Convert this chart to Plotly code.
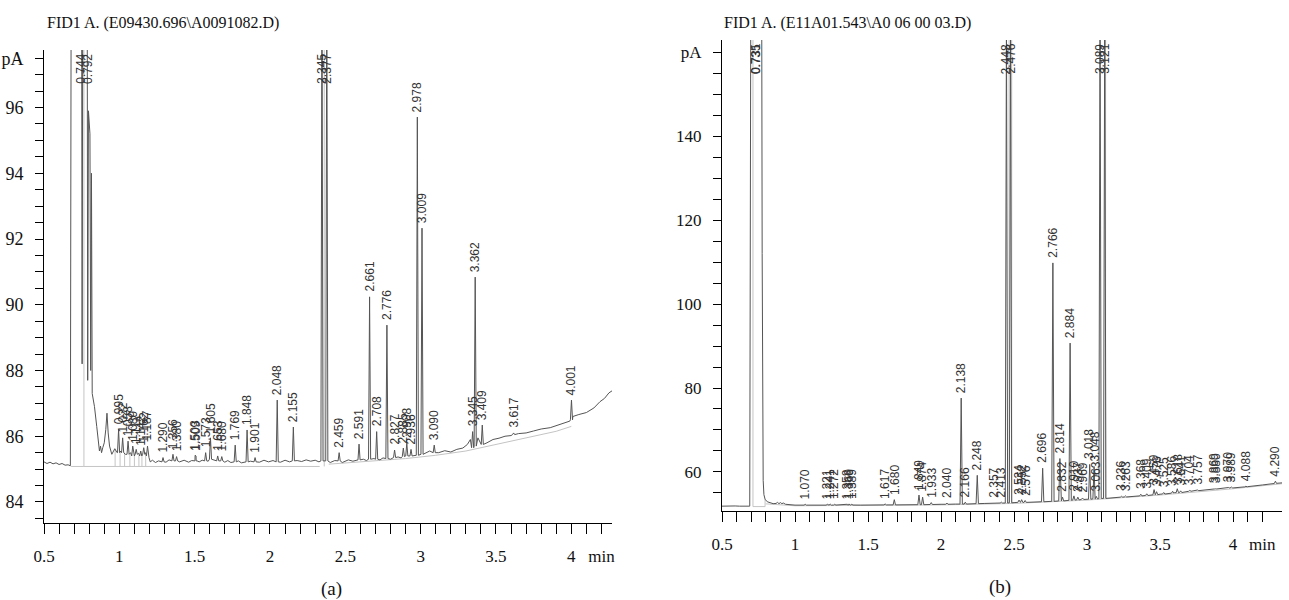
import plotly.graph_objects as go

# ======================= Panel (a) data =======================
A_TITLE = "FID1 A. (E09430.696\\A0091082.D)"
# dark detector signal (time min, pA)
A_SIG_T = [0.50, 0.52, 0.54, 0.56, 0.58, 0.60, 0.62, 0.64, 0.66, 0.675,
           0.680, 0.750, 0.753, 0.757, 0.787, 0.790, 0.795, 0.805, 0.810, 0.815,
           0.820, 0.835, 0.850, 0.860, 0.868, 0.875, 0.882, 0.890, 0.900, 0.910,
           0.918, 0.926, 0.935, 0.950, 0.970, 0.985, 1.010, 1.040, 1.075, 1.100,
           1.128, 1.152, 1.175, 1.197, 1.205, 1.22, 1.24, 1.26, 1.31, 1.33,
           1.40, 1.43, 1.46, 1.48, 1.53, 1.55, 1.59, 1.63, 1.70, 1.72,
           1.74, 1.79, 1.81, 1.87, 1.93, 1.96, 1.99, 2.02, 2.07, 2.10,
           2.13, 2.18, 2.21, 2.24, 2.27, 2.30, 2.325,
           2.40, 2.43, 2.48, 2.52, 2.55, 2.62, 2.64, 2.69, 2.73, 2.75,
           2.80, 2.85, 2.87, 2.96, 3.03, 3.06, 3.12, 3.16, 3.20, 3.24,
           3.28, 3.31, 3.33, 3.38, 3.44, 3.48, 3.52, 3.56, 3.60, 3.65,
           3.70, 3.75, 3.80, 3.86, 3.92, 3.97, 3.99, 4.01, 4.05, 4.10,
           4.15, 4.19, 4.22, 4.25, 4.27]
A_SIG_V = [85.22, 85.17, 85.21, 85.16, 85.19, 85.14, 85.17, 85.12, 85.13, 85.10,
           99.0, 99.0, 88.2, 99.0, 99.0, 87.7, 95.9, 95.2, 88.0, 94.0,
           87.3, 86.9, 86.3, 85.75, 85.55, 85.7, 85.5, 85.65, 85.8, 86.2,
           86.7, 86.1, 85.7, 85.45, 85.62, 85.5, 85.55, 85.45, 85.5, 85.4,
           85.48, 85.42, 85.5, 85.35, 85.22, 85.27, 85.2, 85.25, 85.21, 85.28,
           85.22, 85.27, 85.21, 85.26, 85.22, 85.27, 85.24, 85.28, 85.21, 85.26,
           85.2, 85.25, 85.19, 85.24, 85.21, 85.27, 85.22, 85.26, 85.21, 85.27,
           85.22, 85.26, 85.23, 85.28, 85.24, 85.27, 85.22,
           85.2, 85.26, 85.2, 85.28, 85.24, 85.3, 85.26, 85.32, 85.28, 85.34,
           85.3, 85.37, 85.34, 85.42, 85.48, 85.55, 85.5, 85.56, 85.52, 85.6,
           85.64, 85.75, 85.9, 85.95, 85.8, 85.9, 85.94, 86.0, 86.02, 86.08,
           86.1, 86.16, 86.22, 86.26, 86.35, 86.42, 86.46, 86.6, 86.66, 86.72,
           86.86, 87.05, 87.15, 87.32, 87.38]
# integrated peaks: retention time, apex (pA), local baseline (pA)
A_PK_RT = [0.995, 1.022, 1.058, 1.089, 1.112, 1.142, 1.162, 1.187, 1.290, 1.356,
           1.380, 1.503, 1.509, 1.573, 1.605, 1.653, 1.680, 1.769, 1.848, 1.901,
           2.048, 2.155, 2.345, 2.377, 2.459, 2.591, 2.661, 2.708, 2.776, 2.827,
           2.885, 2.908, 2.936, 2.978, 3.009, 3.090, 3.345, 3.362, 3.409, 3.617,
           4.001]
A_PK_H = [86.2, 85.95, 85.85, 85.7, 85.6, 85.55, 85.65, 85.7, 85.35, 85.45,
          85.38, 85.42, 85.4, 85.5, 85.95, 85.4, 85.38, 85.73, 86.19, 85.35,
          87.1, 86.28, 100.0, 100.0, 85.5, 85.76, 90.24, 86.14, 89.38, 85.58,
          85.64, 85.79, 85.6, 95.71, 92.33, 85.73, 86.14, 90.84, 86.34, 86.1,
          87.1]
A_PK_BASE = [85.5, 85.5, 85.45, 85.4, 85.45, 85.4, 85.45, 85.4, 85.22, 85.25,
             85.25, 85.25, 85.25, 85.25, 85.3, 85.25, 85.25, 85.22, 85.22, 85.22,
             85.22, 85.25, 85.25, 85.25, 85.25, 85.28, 85.3, 85.3, 85.32, 85.35,
             85.38, 85.4, 85.4, 85.42, 85.45, 85.5, 85.65, 85.7, 85.75, 86.05,
             86.5]
A_PK_LABEL = ["0.995", "1.022", "1.058", "1.089", "1.112", "1.142", "1.162", "1.187", "1.290", "1.356",
              "1.380", "1.503", "1.509", "1.573", "1.605", "1.653", "1.680", "1.769", "1.848", "1.901",
              "2.048", "2.155", "2.345", "2.377", "2.459", "2.591", "2.661", "2.708", "2.776", "2.827",
              "2.885", "2.908", "2.936", "2.978", "3.009", "3.090", "3.345", "3.362", "3.409", "3.617",
              "4.001"]
A_SOLV_RT = [0.744, 0.792]
A_SOLV_LABEL = ["0.744", "0.792"]
# light grey integration baseline / drop lines (None = break)
A_LG_T = [0.68, 0.765, 0.765, None, 0.765, 2.33, None, 2.36, 2.36, None,
          0.972, 0.972, None, 1.005, 1.005, None, 1.035, 1.035, None, 1.07, 1.07, None,
          1.10, 1.10, None, 1.13, 1.13, None, 1.15, 1.15, None, 1.175, 1.175, None,
          2.39, 2.6, 2.9, 3.1, 3.3, 3.5, 3.7, 3.9, 4.0]
A_LG_V = [85.08, 85.08, 99.0, None, 85.08, 85.08, None, 85.08, 99.0, None,
          85.08, 85.6, None, 85.08, 85.55, None, 85.08, 85.5, None, 85.08, 85.45, None,
          85.08, 85.45, None, 85.08, 85.42, None, 85.08, 85.45, None, 85.08, 85.48, None,
          85.15, 85.22, 85.32, 85.42, 85.55, 85.75, 85.95, 86.15, 86.3]
A_X_RANGE = [0.5, 4.27]
A_Y_RANGE = [83.36, 97.75]
A_YTICK_STEP = 0.5
A_Y_LABELED = [84, 86, 88, 90, 92, 94, 96]
A_Y_UNIT_AT = 97.5

# ======================= Panel (b) data =======================
B_TITLE = "FID1 A. (E11A01.543\\A0 06 00 03.D)"
B_SIG_T = [0.50, 0.53, 0.56, 0.59, 0.62, 0.65, 0.69, 0.697, 0.772, 0.775,
           0.778, 0.782, 0.787, 0.795, 0.81, 0.83, 0.85, 0.87, 0.88, 0.89,
           0.90, 0.91, 0.92, 0.935, 0.96, 1.0, 1.1, 1.2, 1.3, 1.45,
           1.55, 1.7, 1.8, 1.9, 2.0, 2.1, 2.2, 2.3, 2.4, 2.5,
           2.6, 2.7, 2.8, 2.9, 3.0, 3.1, 3.2, 3.3, 3.4, 3.5,
           3.6, 3.7, 3.8, 3.9, 4.0, 4.1, 4.2, 4.3, 4.335]
B_SIG_V = [51.85, 51.9, 51.8, 51.9, 51.85, 51.8, 51.85, 170.0, 170.0, 112.0,
           72.0, 58.0, 54.6, 53.5, 52.9, 52.6, 52.45, 52.5, 52.75, 52.45,
           52.7, 52.45, 52.6, 52.3, 52.2, 52.1, 52.1, 52.1, 52.15, 52.1,
           52.15, 52.15, 52.2, 52.25, 52.3, 52.35, 52.4, 52.5, 52.6, 52.7,
           52.8, 52.9, 53.1, 53.3, 53.5, 53.7, 53.9, 54.1, 54.4, 54.7,
           55.1, 55.4, 55.7, 56.0, 56.2, 56.5, 56.9, 57.3, 57.4]
B_PK_RT = [1.070, 1.221, 1.241, 1.272, 1.358, 1.369, 1.389, 1.617, 1.680, 1.849,
           1.874, 1.933, 2.040, 2.138, 2.166, 2.248, 2.357, 2.413, 2.448, 2.476,
           2.534, 2.552, 2.576, 2.696, 2.766, 2.814, 2.832, 2.884, 2.910, 2.937,
           2.969, 3.018, 3.048, 3.063, 3.089, 3.121, 3.236, 3.263, 3.368, 3.409,
           3.459, 3.476, 3.525, 3.586, 3.618, 3.641, 3.704, 3.757, 3.869, 3.880,
           3.970, 3.989, 4.088, 4.290]
B_PK_H = [52.3, 52.3, 52.35, 52.3, 52.3, 52.35, 52.3, 52.4, 53.4, 54.5,
          54.0, 52.7, 52.6, 77.6, 52.8, 59.2, 52.7, 52.8, 170.0, 170.0,
          53.3, 53.4, 53.2, 60.9, 109.8, 63.2, 54.0, 90.7, 54.3, 54.0,
          53.8, 61.8, 61.3, 54.2, 170.0, 170.0, 54.2, 54.3, 54.7, 54.8,
          55.8, 55.3, 55.1, 55.4, 56.0, 55.5, 55.6, 55.7, 56.1, 56.0,
          56.3, 56.4, 56.6, 57.8]
B_PK_BASE = [52.1, 52.1, 52.1, 52.12, 52.12, 52.12, 52.12, 52.15, 52.15, 52.2,
             52.2, 52.25, 52.3, 52.35, 52.35, 52.45, 52.55, 52.6, 52.6, 52.65,
             52.75, 52.75, 52.75, 52.9, 53.0, 53.1, 53.1, 53.25, 53.3, 53.35,
             53.45, 53.5, 53.6, 53.6, 53.65, 53.7, 54.0, 54.05, 54.3, 54.4,
             54.55, 54.6, 54.75, 54.95, 55.05, 55.1, 55.4, 55.55, 55.9, 55.95,
             56.15, 56.2, 56.45, 57.25]
B_PK_LABEL = ["1.070", "1.221", "1.241", "1.272", "1.358", "1.369", "1.389", "1.617", "1.680", "1.849",
              "1.874", "1.933", "2.040", "2.138", "2.166", "2.248", "2.357", "2.413", "2.448", "2.476",
              "2.534", "2.552", "2.576", "2.696", "2.766", "2.814", "2.832", "2.884", "2.910", "2.937",
              "2.969", "3.018", "3.048", "3.063", "3.089", "3.121", "3.236", "3.263", "3.368", "3.409",
              "3.459", "3.476", "3.525", "3.586", "3.618", "3.641", "3.704", "3.757", "3.869", "3.880",
              "3.970", "3.989", "4.088", "4.290"]
B_SOLV_RT = [0.731, 0.735]
B_SOLV_LABEL = ["0.731", "0.735"]
B_LG_T = [0.712, 0.712, 0.795, 0.795, None, 0.80, 1.0, 2.0, 2.5, 3.0, 3.5, 4.0, 4.335, None,
          2.466, 2.466, None, 2.484, 2.484, None, 3.127, 3.127]
B_LG_V = [170.0, 51.75, 51.75, 53.5, None, 52.4, 51.95, 52.15, 52.5, 53.3, 54.5, 56.0, 57.2, None,
          52.6, 170.0, None, 52.65, 170.0, None, 53.7, 170.0]
B_X_RANGE = [0.5, 4.335]
B_Y_RANGE = [50.7, 162.9]
B_YTICK_STEP = 5
B_Y_LABELED = [60, 80, 100, 120, 140]
B_Y_UNIT_AT = 160

X_LABELED = [0.5, 1, 1.5, 2, 2.5, 3, 3.5, 4]
X_UNIT_AT = 4.2
X_TICK_STEP = 0.1

# ======================= styling =======================
W, H = 1289, 600
DARK = "#555555"
LIGHT = "#c4c4c4"
SERIF = "Liberation Serif, Times New Roman, serif"
SANS = "Liberation Sans, Arial, sans-serif"


def build_trace(sig_t, sig_v, pk_rt, pk_h, pk_base, hw):
    pts = []
    for t, v in zip(sig_t, sig_v):
        if all(abs(t - r) > hw for r in pk_rt):
            pts.append((t, v))
    for r, h, b in zip(pk_rt, pk_h, pk_base):
        pts += [(r - hw, b), (r, h), (r + hw, b)]
    pts.sort(key=lambda p: p[0])
    return [p[0] for p in pts], [p[1] for p in pts]


def fmt(v):
    return "%g" % v


def xticks(xmax):
    vals, text = [], []
    n = int(round((X_UNIT_AT - 0.5) / X_TICK_STEP))
    for i in range(n + 1):
        v = round(0.5 + i * X_TICK_STEP, 2)
        if v > xmax:
            break
        vals.append(v)
        if any(abs(v - L) < 1e-6 for L in X_LABELED):
            text.append(fmt(v))
        elif abs(v - X_UNIT_AT) < 1e-6:
            text.append("min")
        else:
            text.append("")
    return vals, text


def yticks(yr, step, labeled, unit_at):
    vals, text = [], []
    v = labeled[0]
    while v - step >= yr[0]:
        v -= step
    while v <= unit_at + 1e-9:
        vv = round(v, 3)
        vals.append(vv)
        if any(abs(vv - L) < 1e-6 for L in labeled):
            text.append(fmt(vv))
        elif abs(vv - unit_at) < 1e-6:
            text.append("pA")
        else:
            text.append("")
        v += step
    return vals, text


fig = go.Figure()

panels = [
    dict(xa="x", ya="y", sig=(A_SIG_T, A_SIG_V), pk=(A_PK_RT, A_PK_H, A_PK_BASE, A_PK_LABEL),
         solv=(A_SOLV_RT, A_SOLV_LABEL), lg=(A_LG_T, A_LG_V), hw=0.007, yr=A_Y_RANGE),
    dict(xa="x2", ya="y2", sig=(B_SIG_T, B_SIG_V), pk=(B_PK_RT, B_PK_H, B_PK_BASE, B_PK_LABEL),
         solv=(B_SOLV_RT, B_SOLV_LABEL), lg=(B_LG_T, B_LG_V), hw=0.008, yr=B_Y_RANGE),
]

LABEL_FONT = dict(family=SANS, size=12, color="#333333")
annotations = []
for p in panels:
    fig.add_trace(go.Scatter(x=p["lg"][0], y=p["lg"][1], mode="lines",
                             line=dict(color=LIGHT, width=1), xaxis=p["xa"], yaxis=p["ya"],
                             hoverinfo="skip", showlegend=False, connectgaps=False))
    tx, ty = build_trace(p["sig"][0], p["sig"][1], p["pk"][0], p["pk"][1], p["pk"][2], p["hw"])
    fig.add_trace(go.Scatter(x=tx, y=ty, mode="lines", line=dict(color=DARK, width=1),
                             xaxis=p["xa"], yaxis=p["ya"], showlegend=False))
    ytop = p["yr"][1]
    for r, h, lab in zip(p["pk"][0], p["pk"][1], p["pk"][3]):
        if h >= ytop:
            annotations.append(dict(x=r, y=ytop, xref=p["xa"], yref=p["ya"], text=lab,
                                    textangle=-90, showarrow=False, xanchor="center",
                                    yanchor="top", yshift=-3, borderpad=0, font=LABEL_FONT))
        else:
            annotations.append(dict(x=r, y=h, xref=p["xa"], yref=p["ya"], text=lab,
                                    textangle=-90, showarrow=False, xanchor="center",
                                    yanchor="bottom", yshift=4, borderpad=0, font=LABEL_FONT))
    for r, lab in zip(p["solv"][0], p["solv"][1]):
        annotations.append(dict(x=r, y=ytop, xref=p["xa"], yref=p["ya"], text=lab,
                                textangle=-90, showarrow=False, xanchor="center",
                                yanchor="top", yshift=-3, borderpad=0, font=LABEL_FONT))

# titles & panel letters
annotations += [
    dict(x=45 / W, y=1 - 23 / H, xref="paper", yref="paper", text=A_TITLE, showarrow=False,
         xanchor="left", yanchor="middle", font=dict(family=SERIF, size=16, color="#111")),
    dict(x=722 / W, y=1 - 23 / H, xref="paper", yref="paper", text=B_TITLE, showarrow=False,
         xanchor="left", yanchor="middle", font=dict(family=SERIF, size=16, color="#111")),
    dict(x=331 / W, y=1 - 589 / H, xref="paper", yref="paper", text="(a)", showarrow=False,
         xanchor="center", yanchor="middle", font=dict(family=SERIF, size=19, color="#111")),
    dict(x=1000 / W, y=1 - 587 / H, xref="paper", yref="paper", text="(b)", showarrow=False,
         xanchor="center", yanchor="middle", font=dict(family=SERIF, size=19, color="#111")),
]

axis_common = dict(showline=True, linecolor="black", linewidth=1, ticks="outside",
                   tickcolor="black", tickwidth=1, showgrid=False, zeroline=False,
                   automargin=False, tickmode="array")

axv, axt = xticks(A_X_RANGE[1])
bxv, bxt = xticks(B_X_RANGE[1])
ayv, ayt = yticks(A_Y_RANGE, A_YTICK_STEP, A_Y_LABELED, A_Y_UNIT_AT)
byv, byt = yticks(B_Y_RANGE, B_YTICK_STEP, B_Y_LABELED, B_Y_UNIT_AT)

fig.update_layout(
    width=W, height=H, margin=dict(l=0, r=0, t=0, b=0, pad=0, autoexpand=False),
    paper_bgcolor="white", plot_bgcolor="white", showlegend=False,
    annotations=annotations,
    xaxis=dict(domain=[44 / W, 612 / W], range=A_X_RANGE, anchor="y",
               tickvals=axv, ticktext=axt, ticklen=10, ticklabelstandoff=8,
               tickfont=dict(family=SERIF, size=17, color="#111"), **axis_common),
    yaxis=dict(domain=[1 - 523 / H, 1 - 50 / H], range=A_Y_RANGE, anchor="x",
               tickvals=ayv, ticktext=ayt, ticklen=8, ticklabelstandoff=8,
               tickfont=dict(family=SERIF, size=18, color="#111"), **axis_common),
    xaxis2=dict(domain=[722 / W, 1282 / W], range=B_X_RANGE, anchor="y2",
                tickvals=bxv, ticktext=bxt, ticklen=10, ticklabelstandoff=8,
                tickfont=dict(family=SERIF, size=17, color="#111"), **axis_common),
    yaxis2=dict(domain=[1 - 511 / H, 1 - 40 / H], range=B_Y_RANGE, anchor="x2",
                tickvals=byv, ticktext=byt, ticklen=8, ticklabelstandoff=8,
                tickfont=dict(family=SERIF, size=17, color="#111"), **axis_common),
)

fig.write_html("out.html")
